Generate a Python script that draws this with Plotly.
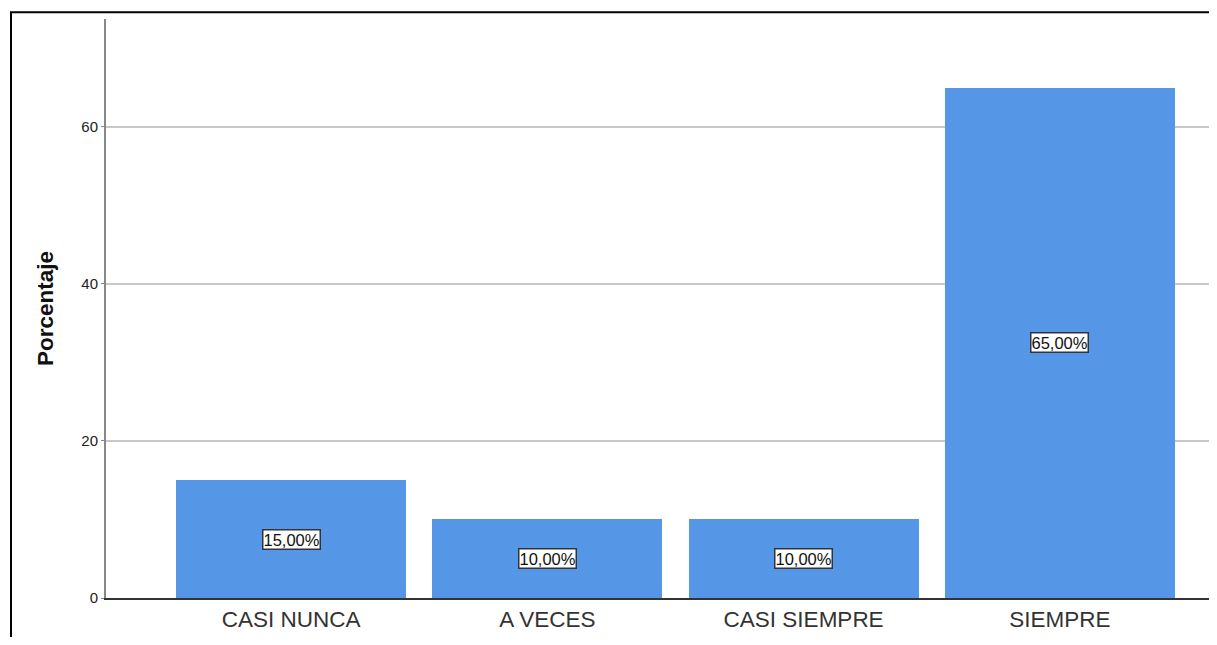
import plotly.graph_objects as go

categories = ["CASI NUNCA", "A VECES", "CASI SIEMPRE", "SIEMPRE"]
porcentajes = [15.0, 10.0, 10.0, 65.0]
y_ticks = [0, 20, 40, 60]

xpos = list(range(len(categories)))

fig = go.Figure()
fig.add_trace(go.Bar(
    x=xpos, y=porcentajes, width=0.897,
    marker=dict(color="#5596E6", line=dict(width=0)),
    hoverinfo="skip",
))

for xi, v in zip(xpos, porcentajes):
    fig.add_annotation(
        x=xi, y=v / 2, xref="x", yref="y",
        text=f"{v:.2f}%".replace(".", ","),
        showarrow=False,
        font=dict(family="Arial, Liberation Sans", size=16.5, color="#111"),
        bgcolor="white", bordercolor="#333", borderwidth=1.5, borderpad=0,
    )

# outer frame
fig.add_shape(type="rect", xref="paper", yref="paper",
              x0=-0.0855, x1=1.3, y0=-0.5, y1=1.0115,
              line=dict(color="black", width=2), layer="above")

fig.update_layout(
    width=1209, height=629,
    margin=dict(l=98, r=0, t=11, b=39),
    plot_bgcolor="white", paper_bgcolor="white",
    showlegend=False, bargap=0,
    font=dict(family="Arial, Liberation Sans"),
)
fig.update_xaxes(
    range=[-0.722, 3.613],
    tickmode="array", tickvals=xpos, ticktext=categories,
    tickfont=dict(size=22.5, color="#333"),
    showline=True, linecolor="#333", linewidth=1.5,
    showgrid=False, ticks="", zeroline=False,
)
fig.update_yaxes(
    range=[0, 73.75],
    tickmode="array", tickvals=y_ticks,
    tickfont=dict(size=15, color="#222"),
    showline=True, linecolor="#888", linewidth=2,
    ticks="outside", ticklen=3, tickcolor="#888",
    showgrid=True, gridcolor="#C8C8C8", gridwidth=1.5,
    zeroline=False,
    title=dict(text="<b>Porcentaje</b>", font=dict(size=22.5, color="#111"), standoff=21),
)

fig.write_html("out.html")
